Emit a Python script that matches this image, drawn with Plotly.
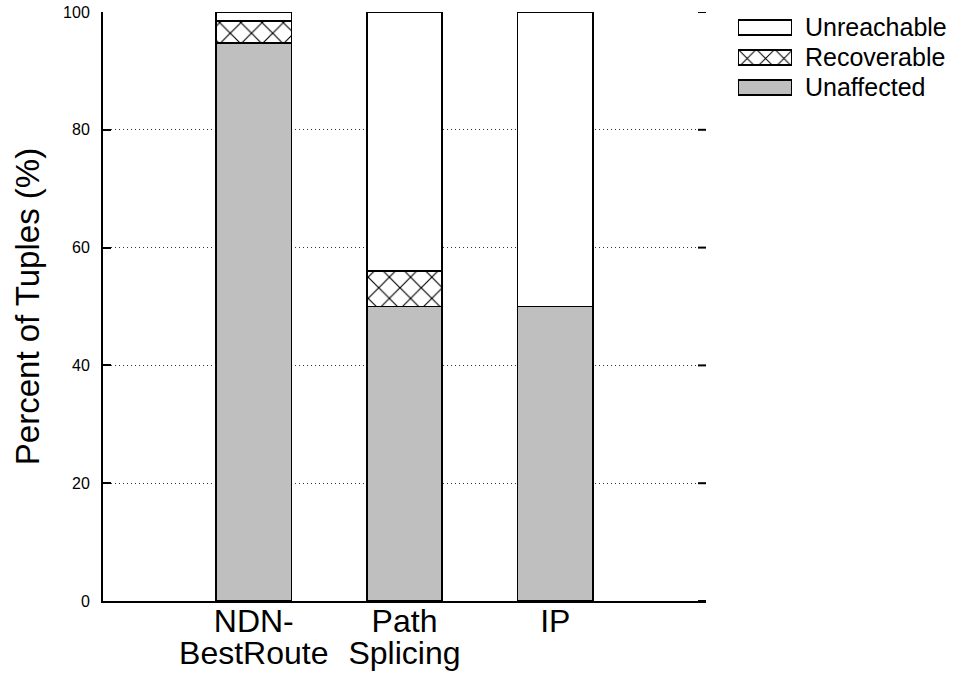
import plotly.graph_objects as go

categories = [["NDN-", "BestRoute"], ["Path", "Splicing"], ["IP"]]
unaffected = [94.7, 50.0, 50.0]
recoverable = [3.8, 6.0, 0.0]
unreachable = [1.5, 44.0, 50.0]
y_ticks = [0, 20, 40, 60, 80, 100]
series_names = ["Unaffected", "Recoverable", "Unreachable"]

FONT = "Liberation Sans, Arial, sans-serif"
W, H = 957, 673
ML, MR, MT, MB = 103, 4, 12, 72
PW, PH = W - ML - MR, H - MT - MB
plot_w = 603


def px_x(p):
    return (p - ML) / PW


def px_y(p):
    return (H - MB - p) / PH


def hatch(size):
    return dict(shape="x", fgcolor="#000000", bgcolor="#ffffff", fgopacity=1,
                fillmode="replace", size=size, solidity=0.15)


styles = {
    "Unaffected": dict(color="#bfbfbf", line=dict(color="black", width=1.5)),
    "Recoverable": dict(color="white", line=dict(color="black", width=1.5), pattern=hatch(15)),
    "Unreachable": dict(color="white", line=dict(color="black", width=1.5)),
}
legend_styles = {
    "Unaffected": dict(color="#bfbfbf", line=dict(color="black", width=1.5)),
    "Recoverable": dict(color="white", line=dict(color="black", width=1.5), pattern=hatch(13)),
    "Unreachable": dict(color="white", line=dict(color="black", width=1.5)),
}

x_idx = list(range(len(categories)))
values = {"Unaffected": unaffected, "Recoverable": recoverable, "Unreachable": unreachable}

fig = go.Figure()
for name in series_names:
    fig.add_trace(go.Bar(x=x_idx, y=values[name], name=name, marker=styles[name],
                         showlegend=False, xaxis="x", yaxis="y"))

# custom legend: swatches drawn as bars on an auxiliary axis
for i, name in enumerate(series_names):
    fig.add_trace(go.Bar(x=[1], y=[i], orientation="h", width=0.5, marker=legend_styles[name],
                         showlegend=False, xaxis="x2", yaxis="y2", hoverinfo="skip"))
    fig.add_annotation(x=px_x(803), xref="paper", xanchor="left", y=i, yref="y2",
                       yanchor="middle", text=name, showarrow=False,
                       font=dict(size=25, family=FONT, color="black"))

# mirrored inside ticks on the right edge
for t in y_ticks:
    fig.add_shape(type="line", xref="x domain", yref="y", x0=1, x1=1 - 8 / plot_w, y0=t, y1=t,
                  line=dict(color="black", width=2))

ticktext = ["<br>".join(f"<span style='font-size:32px'>{s}</span>" for s in c) for c in categories]

fig.update_layout(
    barmode="stack",
    bargap=0.5,
    width=W, height=H,
    margin=dict(l=ML, r=MR, t=MT, b=MB),
    plot_bgcolor="white", paper_bgcolor="white",
    font=dict(family=FONT, color="black"),
    showlegend=False,
    xaxis=dict(
        domain=[0, plot_w / PW], range=[-1, 3], tickvals=x_idx, ticktext=ticktext,
        showline=True, linecolor="black", linewidth=2, automargin=False,
        ticks="", tickfont=dict(size=24.5), showgrid=False, zeroline=False,
    ),
    yaxis=dict(
        range=[0, 100], tickvals=y_ticks, showline=True, linecolor="black", linewidth=2,
        ticks="inside", ticklen=8, tickwidth=2, tickcolor="black", automargin=False,
        tickfont=dict(size=16), ticklabelstandoff=8,
        showgrid=True, gridcolor="#333333", griddash="1px,3px", gridwidth=1,
        title=dict(text="Percent of Tuples (%)", font=dict(size=33), standoff=14),
        zeroline=False,
    ),
    xaxis2=dict(domain=[px_x(738), px_x(792)], range=[0, 1], visible=False, anchor="y2",
                fixedrange=True),
    yaxis2=dict(domain=[px_y(102.5), px_y(12.5)], range=[-0.5, 2.5], visible=False, anchor="x2",
                fixedrange=True),
)

fig.write_html("out.html")
